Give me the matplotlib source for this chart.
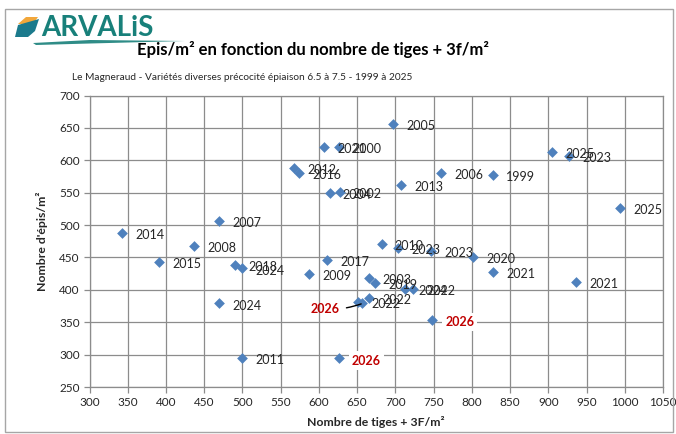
import matplotlib.pyplot as plt
from matplotlib.patches import Polygon, Rectangle

plt.rcParams["font.family"] = ["Lato", "DejaVu Sans"]

# tiges + 3f/m2, epis/m2, year label
tiges = [828, 626, 607, 627, 614, 697, 760, 470, 437, 587, 682, 500, 568, 708,
         343, 391, 574, 611, 490, 673, 802, 828, 936, 666, 651, 704, 747, 927,
         500, 469, 713, 723, 905, 994, 666]
epis = [577, 621, 621, 551, 549, 656, 581, 506, 468, 425, 471, 295, 588, 562,
        488, 443, 580, 446, 439, 410, 451, 428, 412, 388, 381, 464, 460, 606,
        433, 379, 401, 401, 613, 527, 418]
years = ["1999", "2000", "2021", "2002", "2004", "2005", "2006", "2007", "2008",
         "2009", "2010", "2011", "2012", "2013", "2014", "2015", "2016", "2017",
         "2018", "2019", "2020", "2021", "2021", "2022", "2022", "2023", "2023",
         "2023", "2024", "2024", "2024", "2022", "2025", "2025", "2003"]

# current year points (red labels)
tiges_2026 = [657, 748, 626]
epis_2026 = [379, 354, 294]

BLUE = "#4f81bd"
GRID = "#8c8c8c"
RED = "#c00000"

fig = plt.figure(figsize=(6.76, 4.34), dpi=100)
W, H = 676, 434

ax = fig.add_axes([89.5 / W, 1 - 387 / H, (663 - 89.5) / W, (387 - 95.5) / H])
ax.scatter(tiges + tiges_2026, epis + epis_2026, marker="D", s=30, color=BLUE,
           linewidths=0, zorder=3)

for x, y, lab in zip(tiges, epis, years):
    ax.annotate(lab, (x, y), xytext=(9.5, -1.5), textcoords="offset points",
                va="center", ha="left", fontsize=9, color="#262626", zorder=4)

# 2026 labels
ax.annotate("2026", (tiges_2026[0], epis_2026[0]), xytext=(627, 370),
            textcoords="data", ha="right", va="center", fontsize=9,
            fontweight="bold", color=RED, zorder=4,
            arrowprops=dict(arrowstyle="-", color="black", lw=1,
                            shrinkA=3, shrinkB=1,
                            connectionstyle="arc3,rad=0.1"))
for x, y in zip(tiges_2026[1:], epis_2026[1:]):
    ax.annotate("2026", (x, y), xytext=(9.5, -1.5), textcoords="offset points",
                va="center", ha="left", fontsize=9, fontweight="bold",
                color=RED, zorder=4,
                bbox=dict(boxstyle="square,pad=0.25", fc="white", ec="none"))

ax.set_xlim(300, 1050)
ax.set_ylim(250, 700)
ax.set_xticks(range(300, 1051, 50))
ax.set_yticks(range(250, 701, 50))
ax.grid(True, color=GRID, linewidth=0.9)
ax.set_axisbelow(True)
for s in ax.spines.values():
    s.set_color(GRID)
    s.set_linewidth(0.9)
ax.tick_params(direction="out", length=4, width=0.9, color=GRID,
               labelsize=8.5, labelcolor="#262626", pad=3)

ax.set_xlabel("Nombre de tiges + 3F/m²", fontsize=8.8, fontweight="bold",
              color="#262626", labelpad=6)
ax.set_ylabel("Nombre d'épis/m²", fontsize=8.8, fontweight="bold",
              color="#262626", labelpad=8)

# titles
fig.text(313 / W, 1 - 50 / H, "Epis/m² en fonction du nombre de tiges + 3f/m²",
         ha="center", va="center", fontsize=12, fontweight="bold", color="black")
fig.text(72 / W, 1 - 78 / H,
         "Le Magneraud - Variétés diverses précocité épiaison 6.5 à 7.5 - 1999 à 2025",
         ha="left", va="center", fontsize=7.3, color="#262626")

# logo
TEAL = "#18807a"
fig.text(41 / W, 1 - 28 / H, "ARVALiS", ha="left", va="center", fontsize=20,
         fontweight="bold", color=TEAL)


def px(points):
    return [(x / W, 1 - y / H) for x, y in points]


fig.patches.append(Polygon(px([(18, 24), (26, 17), (38, 17), (33, 24)]),
                           closed=True, fc="#f2a73b", ec="none",
                           transform=fig.transFigure))
fig.patches.append(Polygon(px([(15, 37), (18, 25), (39, 19), (35, 31), (28, 37)]),
                           closed=True, fc="#1b7a8c", ec="none",
                           transform=fig.transFigure))
fig.patches.append(Polygon(px([(33, 43), (90, 40), (185, 41), (90, 43.5), (36, 45)]),
                           closed=True, fc=TEAL, ec="none", alpha=0.9,
                           transform=fig.transFigure))

# outer frame
fig.patches.append(Rectangle((5 / W, 1 - 432 / H), 668 / W, 423 / H,
                             fill=False, ec="#a6a6a6", lw=1,
                             transform=fig.transFigure))

fig.savefig("out.png", dpi=100)
